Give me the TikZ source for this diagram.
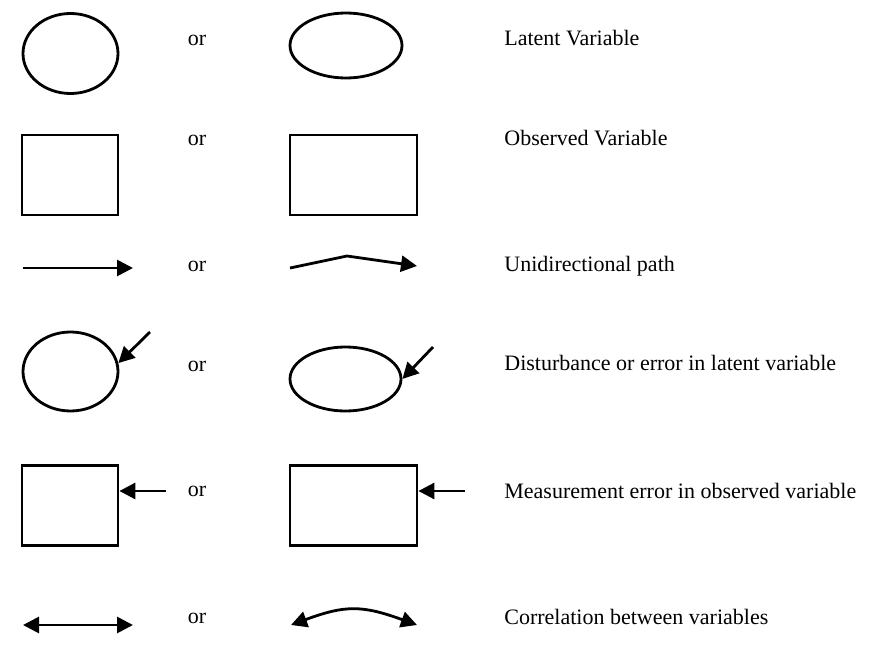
\documentclass[tikz,border=0pt]{standalone}
\usepackage{fontspec}
\setmainfont{Liberation Serif}
\usetikzlibrary{shapes.geometric,arrows.meta}
\begin{document}
\begin{tikzpicture}[x=0.5pt,y=-0.5pt,
  line width=1.4pt,
  latent node/.style={ellipse,draw,inner sep=0pt},
  observed node/.style={rectangle,draw,inner sep=0pt},
  or node/.style={inner sep=0pt,font=\fontsize{11}{13}\selectfont},
  label node/.style={anchor=west,inner sep=0pt,font=\fontsize{11}{13}\selectfont},
  >={Triangle[length=8pt,width=8pt]}]

  \useasboundingbox (0,0) rectangle (889,653);

  % shapes
  \node[latent node,minimum width=47.5pt,minimum height=40pt] (1) at (70.5,53.5) {};
  \node[latent node,minimum width=56pt,minimum height=32.5pt] (2) at (346,45.5) {};
  \node[observed node,minimum width=48pt,minimum height=40pt] (3) at (70,175) {};
  \node[observed node,minimum width=63.5pt,minimum height=40pt] (4) at (353.5,175) {};
  \node[latent node,minimum width=47.5pt,minimum height=39.5pt] (5) at (70.5,371.5) {};
  \node[latent node,minimum width=55.5pt,minimum height=32pt] (6) at (345.5,379) {};
  \node[observed node,minimum width=48pt,minimum height=40pt] (7) at (70,505.5) {};
  \node[observed node,minimum width=63.5pt,minimum height=40pt] (8) at (353.5,505.5) {};

  % free ends
  \coordinate (u1) at (23,268);
  \coordinate (u2) at (133,268);
  \coordinate (u3) at (290,268);
  \coordinate (u4) at (347,256);
  \coordinate (u5) at (417,266);
  \coordinate (d1) at (150,332);
  \coordinate (d2) at (433,347);
  \coordinate (m1) at (166,491);
  \coordinate (m2) at (465,491);
  \coordinate (r1) at (23,625);
  \coordinate (r2) at (133,625);
  \coordinate (r3) at (291,625);
  \coordinate (r4) at (417,625);

  % or
  \node[or node] (o1) at (197,40) {or};
  \node[or node] (o2) at (197,140) {or};
  \node[or node] (o3) at (197,266) {or};
  \node[or node] (o4) at (197,366) {or};
  \node[or node] (o5) at (197,491) {or};
  \node[or node] (o6) at (197,618) {or};

  % labels
  \node[label node] (t1) at (503,38) {Latent Variable};
  \node[label node] (t2) at (503,138) {Observed Variable};
  \node[label node] (t3) at (503,266) {Unidirectional path};
  \node[label node] (t4) at (503,363) {Disturbance or error in latent variable};
  \node[label node] (t5) at (503,491) {Measurement error in observed variable};
  \node[label node] (t6) at (503,617) {Correlation between variables};

  % paths
  \path[->]
   (u1) edge (u2)
   (d1) edge (5.10)
   (d2) edge (6.0)
   (m1) edge (m1 -| 7.east)
   (m2) edge (m2 -| 8.east);
  \draw[->] (u3) -- (u4) -- (u5);
  \draw[<->] (r1) -- (r2);
  \draw[<->] (r3) .. controls (345,605) and (362,605) .. (r4);
\end{tikzpicture}
\end{document}
